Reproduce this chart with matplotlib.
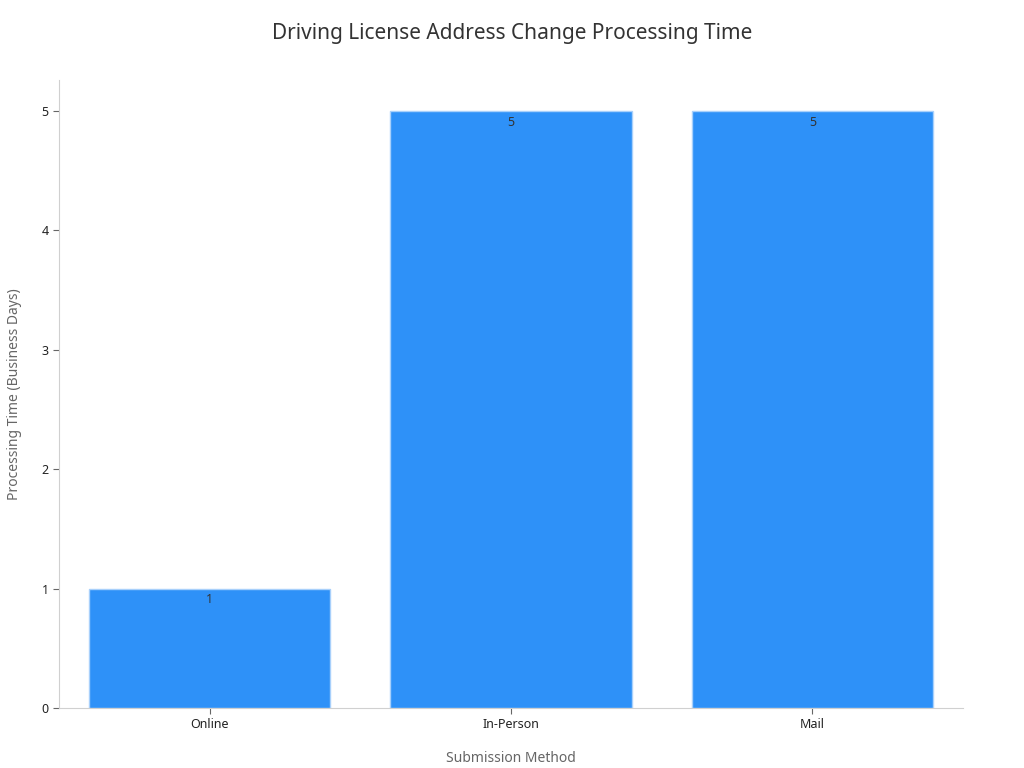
import matplotlib
matplotlib.use("Agg")
import matplotlib.pyplot as plt

methods = ["Online", "In-Person", "Mail"]
days = [1, 5, 5]

plt.rcParams['font.family'] = ['Noto Sans', 'DejaVu Sans']

fig = plt.figure(figsize=(10.24, 7.68), dpi=100)
ax = fig.add_axes([59/1024, 60/768, 904/1024, 628/768])

bars = ax.bar(range(len(methods)), days, width=0.8, color='#2e91f8',
              edgecolor='#a8d0fb', linewidth=1)
for i, v in enumerate(days):
    ax.text(i, v - 0.04, str(v), ha='center', va='top', fontsize=9, color='#333333')

ax.set_xticks(range(len(methods)))
ax.set_xticklabels(methods, fontsize=9, color='#222222')
ax.set_yticks(range(0, 6))
ax.tick_params(axis='y', labelsize=9, colors='#222222')
ax.tick_params(axis='both', color='#666666', length=4)
ax.set_xlim(-0.5, 2.5)
ax.set_ylim(0, 5.26)

for s in ['top', 'right']:
    ax.spines[s].set_visible(False)
for s in ['left', 'bottom']:
    ax.spines[s].set_color('#d0d0d0')

ax.set_xlabel('Submission Method', fontsize=10, color='#666666', labelpad=14)
ax.set_ylabel('Processing Time (Business Days)', fontsize=10, color='#666666', labelpad=14)
fig.text(0.5, 0.957, 'Driving License Address Change Processing Time',
         ha='center', va='center', fontsize=15, color='#333333')

fig.savefig('out.png', dpi=100)
